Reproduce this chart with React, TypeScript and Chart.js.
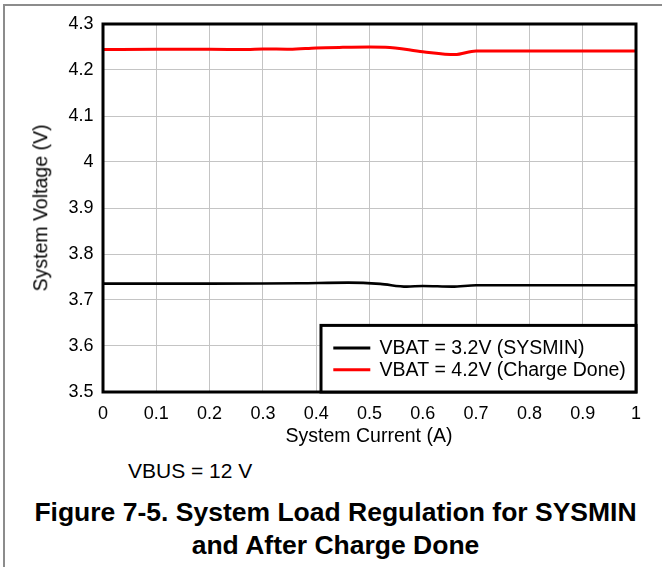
import React, { useEffect, useRef } from "react";
import { Chart, registerables } from "chart.js";

Chart.register(...registerables);

const FONT = "'Liberation Sans', Arial, Helvetica, sans-serif";

// Series: VBAT = 3.2V (SYSMIN)
const sysminCurrent = [0, 0.1, 0.2, 0.3, 0.37, 0.46, 0.52, 0.57, 0.6, 0.655, 0.7, 0.8, 0.9, 1];
const sysminVoltage = [3.7356, 3.7356, 3.7356, 3.7358, 3.7365, 3.7378, 3.735, 3.729, 3.7305, 3.729, 3.732, 3.732, 3.732, 3.732];

// Series: VBAT = 4.2V (Charge Done)
const doneCurrent = [0, 0.1, 0.2, 0.27, 0.3, 0.35, 0.4, 0.45, 0.5, 0.53, 0.6, 0.66, 0.7, 0.8, 0.9, 1];
const doneVoltage = [4.2445, 4.245, 4.245, 4.2446, 4.2458, 4.2452, 4.248, 4.2492, 4.2498, 4.2496, 4.2398, 4.2335, 4.2413, 4.2413, 4.2413, 4.2413];

const seriesLabels = ["VBAT = 3.2V (SYSMIN)", "VBAT = 4.2V (Charge Done)"];
const seriesColors = ["#000000", "#ff0000"];

const xTickLabels = ["0", "0.1", "0.2", "0.3", "0.4", "0.5", "0.6", "0.7", "0.8", "0.9", "1"];
const yTickLabels = ["3.5", "3.6", "3.7", "3.8", "3.9", "4", "4.1", "4.2", "4.3"];

const xTitle = "System Current (A)";
const yTitle = "System Voltage (V)";
const noteText = "VBUS = 12 V";
const captionLines = ["Figure 7-5. System Load Regulation for SYSMIN", "and After Charge Done"];

const toPoints = (xs: number[], ys: number[]) => xs.map((x, i) => ({ x, y: ys[i] }));

const framePlugin = {
  id: "frameAndLegend",
  afterDatasetsDraw(chart: any) {
    const { ctx, chartArea } = chart;
    const { left, top, right, bottom } = chartArea;
    ctx.save();
    // plot frame
    ctx.strokeStyle = "#000";
    ctx.lineWidth = 3;
    ctx.strokeRect(left, top, right - left, bottom - top);

    // legend box in the lower-right corner
    const bw = 315;
    const bh = 66.6;
    const bx = right - bw;
    const by = bottom - bh;
    ctx.fillStyle = "#fff";
    ctx.fillRect(bx, by, bw, bh);
    ctx.strokeRect(bx, by, bw, bh);

    const rows = [by + 22.6, by + 44.3];
    chart.data.datasets.forEach((ds: any, i: number) => {
      const y = rows[i];
      ctx.strokeStyle = ds.borderColor;
      ctx.lineWidth = 3;
      ctx.beginPath();
      ctx.moveTo(bx + 12.3, y);
      ctx.lineTo(bx + 49.3, y);
      ctx.stroke();
      ctx.fillStyle = "#000";
      ctx.font = `19.5px ${FONT}`;
      ctx.textBaseline = "middle";
      ctx.textAlign = "left";
      ctx.fillText(ds.label, bx + 58.6, y + 1);
    });
    ctx.restore();
  },
};

export default function App() {
  const canvasRef = useRef<HTMLCanvasElement | null>(null);

  useEffect(() => {
    if (!canvasRef.current) return;
    const chart = new Chart(canvasRef.current, {
      type: "line",
      data: {
        datasets: [
          {
            label: seriesLabels[0],
            data: toPoints(sysminCurrent, sysminVoltage),
            borderColor: seriesColors[0],
            backgroundColor: seriesColors[0],
            borderWidth: 2.6,
            pointRadius: 0,
            tension: 0.3,
            cubicInterpolationMode: "monotone",
          },
          {
            label: seriesLabels[1],
            data: toPoints(doneCurrent, doneVoltage),
            borderColor: seriesColors[1],
            backgroundColor: seriesColors[1],
            borderWidth: 3,
            pointRadius: 0,
            tension: 0.3,
            cubicInterpolationMode: "monotone",
          },
        ],
      },
      options: {
        responsive: false,
        animation: false,
        devicePixelRatio: 1,
        layout: { padding: { left: 0, top: 24, right: 26, bottom: 0 } },
        plugins: {
          legend: { display: false },
          tooltip: { enabled: false },
          title: { display: false },
        },
        scales: {
          x: {
            type: "linear",
            min: 0,
            max: 1,
            ticks: {
              stepSize: 0.1,
              color: "#000",
              font: { family: FONT, size: 18 },
              padding: 11.5,
              maxRotation: 0,
              autoSkip: false,
              callback: (_v: any, i: number) => xTickLabels[i],
            },
            grid: { color: "#c4c4c4", lineWidth: 1, drawTicks: false },
            border: { display: false },
            afterFit: (scale: any) => {
              scale.height = 58;
            },
          },
          y: {
            type: "linear",
            min: 3.5,
            max: 4.3,
            ticks: {
              stepSize: 0.1,
              color: "#000",
              font: { family: FONT, size: 18 },
              padding: 9.5,
              autoSkip: false,
              callback: (_v: any, i: number) => yTickLabels[i],
            },
            grid: { color: "#c4c4c4", lineWidth: 1, drawTicks: false },
            border: { display: false },
            afterFit: (scale: any) => {
              scale.width = 103;
            },
          },
        },
      },
      plugins: [framePlugin],
    });
    return () => chart.destroy();
  }, []);

  const txt: React.CSSProperties = {
    position: "absolute",
    fontFamily: FONT,
    color: "#000",
    lineHeight: 1,
    whiteSpace: "nowrap",
  };

  return (
    <div style={{ position: "absolute", left: 0, top: 0, width: 662, height: 567, background: "#fff", overflow: "hidden" }}>
      <div
        style={{
          position: "absolute",
          left: 3,
          top: 3.5,
          width: 800,
          height: 800,
          borderLeft: "2px solid #8c8c8c",
          borderTop: "2px solid #8c8c8c",
        }}
      />
      <canvas ref={canvasRef} width={662} height={450} style={{ position: "absolute", left: 0, top: 0, width: 662, height: 450 }} />
      <div style={{ ...txt, fontSize: 19.5, left: 369, top: 435.8, transform: "translate(-50%,-50%)" }}>{xTitle}</div>
      <div style={{ ...txt, fontSize: 19.5, left: 41, top: 208, transform: "translate(-50%,-50%) rotate(-90deg)" }}>{yTitle}</div>
      <div style={{ ...txt, fontSize: 21, left: 128, top: 470, transform: "translateY(-50%)" }}>{noteText}</div>
      <div style={{ ...txt, fontSize: 26.5, fontWeight: "bold", left: 335.5, top: 512, transform: "translate(-50%,-50%)" }}>{captionLines[0]}</div>
      <div style={{ ...txt, fontSize: 26.5, fontWeight: "bold", left: 335.5, top: 545, transform: "translate(-50%,-50%)" }}>{captionLines[1]}</div>
    </div>
  );
}
